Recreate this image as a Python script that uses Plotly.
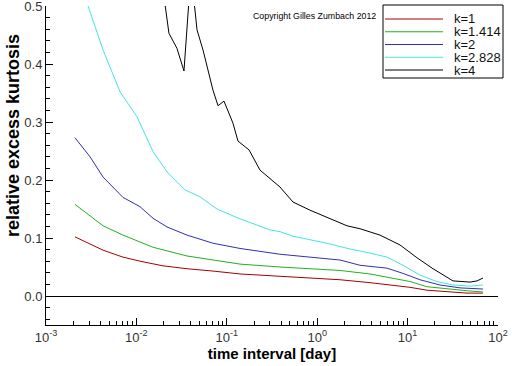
import plotly.graph_objects as go

# ---- data ----
series_names = ["k=1", "k=1.414", "k=2", "k=2.828", "k=4"]
series_colors = ["#a80000", "#22b022", "#3030b0", "#44e4e4", "#000000"]

x_k1 = [0.00209, 0.00428, 0.00711, 0.01096, 0.0197, 0.0363, 0.0703, 0.140, 0.387,
        0.645, 1.79, 3.84, 6.38, 10.6, 16.4, 27.3, 45.4, 68.2]
y_k1 = [0.102, 0.079, 0.067, 0.060, 0.052, 0.047, 0.043, 0.038, 0.034,
        0.032, 0.028, 0.023, 0.019, 0.015, 0.010, 0.007, 0.005, 0.005]

x_k1414 = [0.00209, 0.00428, 0.00711, 0.01096, 0.01528, 0.0363, 0.0703, 0.140, 0.387,
           0.645, 1.79, 3.84, 6.38, 10.6, 16.4, 27.3, 45.4, 68.2]
y_k1414 = [0.158, 0.121, 0.105, 0.093, 0.084, 0.069, 0.062, 0.055, 0.050,
           0.048, 0.044, 0.038, 0.032, 0.025, 0.016, 0.012, 0.009, 0.007]

x_k2 = [0.00209, 0.00307, 0.00428, 0.00711, 0.01096, 0.01528, 0.0218, 0.0363, 0.0703,
        0.140, 0.387, 0.645, 1.79, 2.97, 5.92, 8.89, 13.7, 22.8, 38.0, 68.2]
y_k2 = [0.273, 0.240, 0.205, 0.170, 0.154, 0.134, 0.119, 0.105, 0.091,
        0.082, 0.072, 0.069, 0.062, 0.053, 0.048, 0.039, 0.028, 0.019, 0.014, 0.012]

x_k2828 = [0.00209, 0.00292, 0.00428, 0.00659, 0.01016, 0.01528, 0.0218, 0.0345, 0.0505,
           0.0779, 0.140, 0.300, 0.387, 0.540, 1.28, 2.31, 3.84, 5.92, 8.89,
           13.7, 21.1, 31.8, 49.0, 68.2]
y_k2828 = [0.56, 0.500, 0.424, 0.352, 0.309, 0.249, 0.214, 0.183, 0.171,
           0.150, 0.133, 0.114, 0.111, 0.103, 0.091, 0.081, 0.074, 0.067, 0.053,
           0.036, 0.025, 0.019, 0.017, 0.019]

x_k4 = [0.00209, 0.0100, 0.0185, 0.0229, 0.0281, 0.0336, 0.0402, 0.0468, 0.0546,
        0.0703, 0.080, 0.0931, 0.117, 0.133, 0.176, 0.233, 0.387, 0.540, 0.832,
        1.28, 2.14, 2.97, 4.95, 8.24, 12.7, 19.1, 31.8, 49.0, 58.6, 68.2]
y_k4 = [1.20, 0.80, 0.56, 0.453, 0.427, 0.388, 0.56, 0.459, 0.424,
        0.355, 0.328, 0.336, 0.298, 0.267, 0.252, 0.217, 0.188, 0.162, 0.148,
        0.136, 0.121, 0.116, 0.105, 0.088, 0.066, 0.047, 0.026, 0.024, 0.026, 0.031]

xs = [x_k1, x_k1414, x_k2, x_k2828, x_k4]
ys = [y_k1, y_k1414, y_k2, y_k2828, y_k4]

x_tick_values = [0.001, 0.01, 0.1, 1, 10, 100]
x_tick_labels = ["10<sup>-3</sup>", "10<sup>-2</sup>", "10<sup>-1</sup>",
                 "10<sup>0</sup>", "10<sup>1</sup>", "10<sup>2</sup>"]
y_tick_values = [0.0, 0.1, 0.2, 0.3, 0.4, 0.5]
y_tick_labels = ["0.0", "0.1", "0.2", "0.3", "0.4", "0.5"]

x_title = "time interval [day]"
y_title = "relative excess kurtosis"
copyright_text = "Copyright Gilles Zumbach 2012"

FONT = "Liberation Sans, Arial, sans-serif"

# ---- layout geometry (pixels) ----
W, H = 512, 366
ML, MR, MT, MB = 46, 14, 6, 41
PW, PH = W - ML - MR, H - MT - MB


def px_x(px):
    return (px - ML) / PW


def px_y(py):
    return (H - MB - py) / PH


fig = go.Figure()
for name, color, x, y in zip(series_names, series_colors, xs, ys):
    fig.add_trace(go.Scatter(x=x, y=y, mode="lines", name=name,
                             line=dict(color=color, width=1)))

fig.update_layout(
    width=W, height=H,
    margin=dict(l=ML, r=MR, t=MT, b=MB),
    paper_bgcolor="white", plot_bgcolor="white",
    font=dict(family=FONT, size=12, color="#222"),
    showlegend=False,
)

fig.update_xaxes(
    type="log", range=[-3, 2],
    tickmode="array", tickvals=x_tick_values, ticktext=x_tick_labels,
    showline=True, linecolor="black", linewidth=1, mirror=False,
    ticks="inside", ticklen=7, tickcolor="black",
    minor=dict(ticks="inside", ticklen=4, tickcolor="black", dtick="D1", showgrid=False),
    showgrid=False, zeroline=False, automargin=False, ticklabeloverflow="allow",
    tickfont=dict(family=FONT, size=13, color="#333"),
    title=dict(text=x_title, font=dict(family=FONT, size=15, color="black", weight="bold"),
               standoff=4),
)

fig.update_yaxes(
    range=[-0.05, 0.5],
    tickmode="array", tickvals=y_tick_values, ticktext=y_tick_labels,
    showline=True, linecolor="black", linewidth=1, mirror=False,
    ticks="inside", ticklen=7, tickcolor="black",
    minor=dict(ticks="inside", ticklen=4, tickcolor="black", dtick=0.02, tick0=0,
               showgrid=False),
    showgrid=False, automargin=False, ticklabeloverflow="allow",
    zeroline=True, zerolinecolor="black", zerolinewidth=1,
    tickfont=dict(family=FONT, size=13, color="#333"),
)

# y-axis title (placed like the reference, above centre)
fig.add_annotation(
    text=y_title, textangle=-90, xref="paper", yref="paper",
    x=px_x(13), y=px_y(136), xanchor="center", yanchor="middle", showarrow=False,
    font=dict(family=FONT, size=18, color="black", weight="bold"),
)

fig.add_annotation(
    text=copyright_text, xref="paper", yref="paper",
    x=px_x(378), y=px_y(16), xanchor="right", yanchor="middle", showarrow=False,
    font=dict(family=FONT, size=8.8, color="black"),
)

# compact boxed legend, built from the series lists
LEG_X0, LEG_X1, LEG_Y0, LEG_Y1 = 383, 503, 5, 78
ROW0, ROW_STEP = 19, 12.75
fig.add_shape(type="rect", xref="paper", yref="paper",
              x0=px_x(LEG_X0), x1=px_x(LEG_X1), y0=px_y(LEG_Y1), y1=px_y(LEG_Y0),
              line=dict(color="black", width=1), fillcolor="white", layer="above")
for i, (name, color) in enumerate(zip(series_names, series_colors)):
    ry = ROW0 + ROW_STEP * i
    fig.add_shape(type="line", xref="paper", yref="paper",
                  x0=px_x(385), x1=px_x(443), y0=px_y(ry), y1=px_y(ry),
                  line=dict(color=color, width=1), layer="above")
    fig.add_annotation(text=name, xref="paper", yref="paper",
                       x=px_x(452), y=px_y(ry), xanchor="left", yanchor="middle",
                       showarrow=False,
                       font=dict(family=FONT, size=13, color="#111"))

fig.write_html(
    "out.html",
    config={"displayModeBar": False},
    post_script="document.body.style.margin='0';document.body.style.overflow='hidden';",
)
